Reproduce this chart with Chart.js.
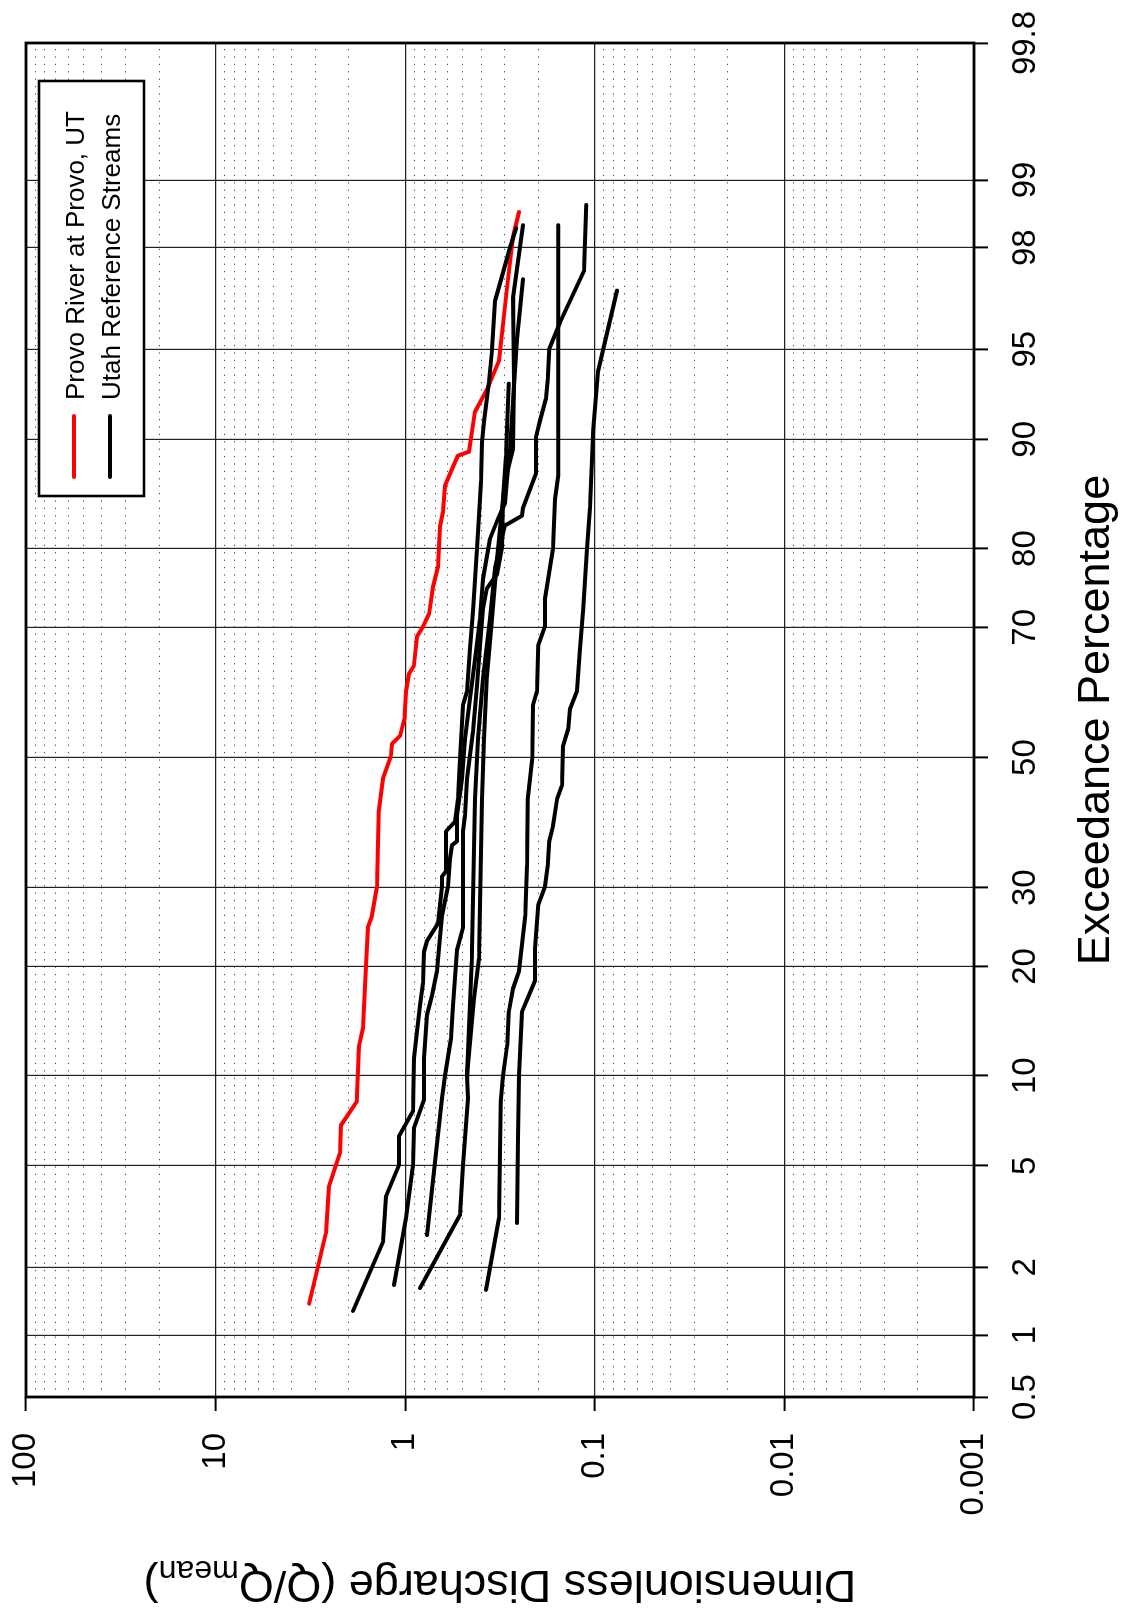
<!DOCTYPE html>
<html>
<head>
<meta charset="utf-8">
<script src="https://cdn.jsdelivr.net/npm/chart.js@4.4.0/dist/chart.umd.min.js"></script>
<style>
  html, body { margin: 0; padding: 0; background: #fff; overflow: hidden; width: 1127px; height: 1617px; }
  /* el grafico se dibuja horizontal y se gira 90 grados */
  #marco { position: absolute; left: 0; top: 0; width: 1617px; height: 1127px;
           transform-origin: 0 0; transform: translate(0, 1617px) rotate(-90deg); }
</style>
</head>
<body>
<div id="marco"><canvas id="grafico" width="1617" height="1127"></canvas></div>
<script>
// Curvas de duracion de caudales: % de excedencia vs caudal adimensional (Q/Qmean)

const probTicks = [0.5, 1, 2, 5, 10, 20, 30, 50, 70, 80, 90, 95, 98, 99, 99.8];
const probLabels = ['0.5', '1', '2', '5', '10', '20', '30', '50', '70', '80', '90', '95', '98', '99', '99.8'];
const qTicks = [0.001, 0.01, 0.1, 1, 10, 100];
const qLabels = ['0.001', '0.01', '0.1', '1', '10', '100'];
const legendLabels = ['Provo River at Provo, UT', 'Utah Reference Streams'];

// Provo River
const provoPct = [1.39, 2.03, 2.77, 4.22, 5.55, 6.93, 8.3, 12.3, 13.8, 20.1, 24.8, 26.1, 30.2, 41.4, 46.6, 50.2, 52.2, 53.5, 56.2, 60.5, 63.2, 64.4, 68.7, 70.1, 71.9, 75.4, 77.9, 82.4, 83.9, 86.3, 87.9, 88.8, 89.1, 91.8, 93.2, 94.5, 97.1, 98.2, 98.6];
const provoQ = [3.21, 2.88, 2.62, 2.52, 2.21, 2.18, 1.80, 1.75, 1.67, 1.61, 1.57, 1.50, 1.41, 1.38, 1.31, 1.19, 1.175, 1.064, 1.01, 0.99, 0.955, 0.90, 0.867, 0.806, 0.748, 0.713, 0.671, 0.655, 0.632, 0.617, 0.560, 0.527, 0.461, 0.429, 0.366, 0.320, 0.290, 0.270, 0.251];

// Estaciones de referencia de Utah
const ref1Pct = [1.29, 2.55, 3.86, 5.03, 6.36, 7.72, 11.3, 13.5, 15.9, 18.2, 21.7, 23.0, 25.2, 30.2, 31.6, 32.3, 38.3, 39.8, 43.4, 49.8, 58.3, 60.5, 67.0, 72.2, 80.0, 85.1, 86.7, 89.8, 91.2, 93.5, 95.0, 96.7, 98.0, 98.35];
const ref1Q = [1.885, 1.31, 1.263, 1.078, 1.078, 0.910, 0.899, 0.867, 0.835, 0.806, 0.796, 0.767, 0.671, 0.640, 0.640, 0.610, 0.610, 0.546, 0.527, 0.514, 0.496, 0.472, 0.455, 0.439, 0.418, 0.403, 0.398, 0.393, 0.384, 0.361, 0.348, 0.336, 0.280, 0.260];

const ref2Pct = [2.72, 8.5, 10.0, 12.9, 15.9, 21.9, 24.6, 38.3, 40.8, 46.6, 54.2, 61.4, 67.4, 72.6, 75.2, 77.0, 80.0, 85.1, 86.7, 89.3, 93.6, 96.8, 98.4];
const ref2Q = [0.767, 0.640, 0.617, 0.573, 0.560, 0.533, 0.496, 0.496, 0.484, 0.472, 0.439, 0.418, 0.403, 0.389, 0.371, 0.328, 0.309, 0.305, 0.298, 0.270, 0.267, 0.270, 0.239];

const ref3Pct = [1.68, 3.18, 5.03, 6.77, 8.38, 11.3, 15.0, 16.9, 19.5, 22.1, 26.2, 30.2, 34.2, 36.2, 36.8, 40.8, 46.6, 53.0, 59.4, 66.5, 71.2, 76.4, 81.1, 83.2, 84.7, 86.9, 89.3, 95.4, 97.3];
const ref3Q = [1.146, 0.990, 0.910, 0.899, 0.796, 0.796, 0.767, 0.722, 0.680, 0.664, 0.640, 0.595, 0.581, 0.567, 0.533, 0.533, 0.502, 0.484, 0.455, 0.423, 0.403, 0.389, 0.357, 0.324, 0.298, 0.290, 0.280, 0.257, 0.239];

const ref4Pct = [10.0, 16.6, 20.9, 43.4, 53.0, 62.5, 71.2, 78.8, 85.1, 88.8, 93.4];
const ref4Q = [0.472, 0.434, 0.408, 0.393, 0.384, 0.371, 0.348, 0.328, 0.305, 0.294, 0.284];

const ref5Pct = [1.63, 3.27, 5.03, 8.5, 10.0, 20.6, 43.4, 53.0, 62.5, 71.2, 77.7, 82.5, 83.5, 84.3, 87.4, 90.2, 91.2, 92.6, 93.6, 95.0, 96.0, 97.5, 98.7];
const ref5Q = [0.835, 0.514, 0.496, 0.467, 0.472, 0.445, 0.429, 0.413, 0.389, 0.357, 0.336, 0.298, 0.242, 0.239, 0.204, 0.204, 0.195, 0.181, 0.177, 0.174, 0.153, 0.114, 0.111];

const ref6Pct = [1.60, 3.18, 8.3, 10.0, 12.3, 15.3, 17.6, 19.5, 26.2, 33.2, 43.4, 49.8, 58.3, 60.5, 67.4, 70.2, 73.9, 80.0, 85.1, 87.2, 95.0, 98.4];
const ref6Q = [0.375, 0.320, 0.313, 0.305, 0.290, 0.284, 0.270, 0.251, 0.233, 0.228, 0.226, 0.214, 0.212, 0.202, 0.199, 0.183, 0.183, 0.166, 0.162, 0.156, 0.156, 0.156];

const ref7Pct = [3.04, 6.26, 10.0, 15.3, 16.6, 18.4, 22.1, 27.6, 30.2, 33.2, 36.8, 39.2, 43.4, 45.5, 51.9, 54.6, 57.8, 60.6, 66.5, 72.6, 80.0, 84.3, 90.7, 94.0, 97.0];
const ref7Q = [0.257, 0.254, 0.251, 0.242, 0.226, 0.207, 0.207, 0.199, 0.183, 0.177, 0.174, 0.166, 0.158, 0.149, 0.147, 0.138, 0.135, 0.124, 0.120, 0.115, 0.110, 0.106, 0.102, 0.0962, 0.0764];

const FUENTE = '"Liberation Sans", Arial, Helvetica, sans-serif';

// Inversa de la normal estandar (Acklam) para el eje de probabilidad
function qnorm(p) {
  const a = [-3.969683028665376e+01, 2.209460984245205e+02, -2.759285104469687e+02, 1.383577518672690e+02, -3.066479806614716e+01, 2.506628277459239e+00];
  const b = [-5.447609879822406e+01, 1.615858368580409e+02, -1.556989798598866e+02, 6.680131188771972e+01, -1.328068155288572e+01];
  const c = [-7.784894002430293e-03, -3.223964580411365e-01, -2.400758277161838e+00, -2.549732539343734e+00, 4.374664141464968e+00, 2.938163982698783e+00];
  const d = [7.784695709041462e-03, 3.224671290700398e-01, 2.445134137142996e+00, 3.754408661907416e+00];
  const plow = 0.02425;
  let q, r;
  if (p < plow) {
    q = Math.sqrt(-2 * Math.log(p));
    return (((((c[0] * q + c[1]) * q + c[2]) * q + c[3]) * q + c[4]) * q + c[5]) / ((((d[0] * q + d[1]) * q + d[2]) * q + d[3]) * q + 1);
  }
  if (p > 1 - plow) {
    q = Math.sqrt(-2 * Math.log(1 - p));
    return -(((((c[0] * q + c[1]) * q + c[2]) * q + c[3]) * q + c[4]) * q + c[5]) / ((((d[0] * q + d[1]) * q + d[2]) * q + d[3]) * q + 1);
  }
  q = p - 0.5;
  r = q * q;
  return (((((a[0] * r + a[1]) * r + a[2]) * r + a[3]) * r + a[4]) * r + a[5]) * q / (((((b[0] * r + b[1]) * r + b[2]) * r + b[3]) * r + b[4]) * r + 1);
}

function serie(pct, q) {
  return pct.map((p, i) => ({ x: qnorm(p / 100), y: q[i] }));
}

const referencias = [
  [ref1Pct, ref1Q], [ref2Pct, ref2Q], [ref3Pct, ref3Q], [ref4Pct, ref4Q],
  [ref5Pct, ref5Q], [ref6Pct, ref6Q], [ref7Pct, ref7Q]
];

const datasets = referencias.map(([p, q]) => ({
  data: serie(p, q),
  borderColor: '#000000'
}));
datasets.push({ data: serie(provoPct, provoQ), borderColor: '#ff0000' });

// Rejilla menor punteada (2..9 de cada decada)
const rejillaMenor = {
  id: 'rejillaMenor',
  beforeDatasetsDraw(chart) {
    const { ctx, chartArea, scales } = chart;
    ctx.save();
    ctx.strokeStyle = '#444';
    ctx.lineWidth = 1.2;
    ctx.setLineDash([1.2, 6.2]);
    for (let k = 0; k < qTicks.length - 1; k++) {
      for (let m = 2; m <= 9; m++) {
        const y = Math.round(scales.y.getPixelForValue(qTicks[k] * m)) + 0.5;
        ctx.beginPath();
        ctx.moveTo(chartArea.left, y);
        ctx.lineTo(chartArea.right, y);
        ctx.stroke();
      }
    }
    ctx.restore();
  }
};

// Marco, titulos de ejes y leyenda
const marcoYLeyenda = {
  id: 'marcoYLeyenda',
  afterDraw(chart) {
    const { ctx, chartArea } = chart;
    ctx.save();
    ctx.strokeStyle = '#000';
    ctx.lineWidth = 2.8;
    ctx.setLineDash([]);
    ctx.strokeRect(chartArea.left, chartArea.top, chartArea.right - chartArea.left, chartArea.bottom - chartArea.top);

    // titulo eje x
    ctx.fillStyle = '#000';
    ctx.font = '45px ' + FUENTE;
    ctx.textAlign = 'center';
    ctx.textBaseline = 'alphabetic';
    ctx.fillText('Exceedance Percentage', (chartArea.left + chartArea.right) / 2, 1109);

    // titulo eje y con subindice
    const t1 = 'Dimensionless Discharge (Q/Q', t2 = 'mean', t3 = ')';
    ctx.font = '45px ' + FUENTE;
    const w1 = ctx.measureText(t1).width, w3 = ctx.measureText(t3).width;
    ctx.font = '32px ' + FUENTE;
    const w2 = ctx.measureText(t2).width;
    const x0 = -(w1 + w2 + w3) / 2;
    ctx.save();
    ctx.translate(46, (chartArea.top + chartArea.bottom) / 2);
    ctx.rotate(-Math.PI / 2);
    ctx.textAlign = 'left';
    ctx.font = '45px ' + FUENTE;
    ctx.fillText(t1, x0, 0);
    ctx.fillText(t3, x0 + w1 + w2, 0);
    ctx.font = '32px ' + FUENTE;
    ctx.fillText(t2, x0 + w1, 10);
    ctx.restore();

    // leyenda
    ctx.fillStyle = '#fff';
    ctx.fillRect(1121, 39, 415, 105);
    ctx.lineWidth = 2.6;
    ctx.strokeRect(1121, 39, 415, 105);
    const colores = ['#ff0000', '#000000'];
    const filas = [74, 110];
    ctx.lineWidth = 4;
    ctx.lineCap = 'round';
    ctx.font = '26px ' + FUENTE;
    ctx.textAlign = 'left';
    ctx.fillStyle = '#000';
    legendLabels.forEach((txt, i) => {
      ctx.strokeStyle = colores[i];
      ctx.beginPath();
      ctx.moveTo(1140, filas[i]);
      ctx.lineTo(1201, filas[i]);
      ctx.stroke();
      ctx.fillText(txt, 1217, filas[i] + 9.5);
    });
    ctx.restore();
  }
};

new Chart(document.getElementById('grafico').getContext('2d'), {
  type: 'line',
  data: { datasets },
  options: {
    responsive: false,
    animation: false,
    devicePixelRatio: 1,
    events: [],
    layout: { padding: { top: 26, right: 43, bottom: 0, left: 0 } },
    plugins: { legend: { display: false }, tooltip: { enabled: false } },
    elements: {
      point: { radius: 0 },
      line: { tension: 0, borderWidth: 4, borderCapStyle: 'round', borderJoinStyle: 'round', fill: false }
    },
    scales: {
      x: {
        type: 'linear',
        min: qnorm(0.005),
        max: qnorm(0.998),
        afterBuildTicks: s => { s.ticks = probTicks.map(p => ({ value: qnorm(p / 100) })); },
        afterFit: s => { s.height = 153; s.paddingLeft = 0; s.paddingRight = 0; },
        ticks: {
          autoSkip: false, minRotation: 0, maxRotation: 0, padding: 18, color: '#000',
          font: { family: FUENTE, size: 33 },
          callback: (v, i) => probLabels[i]
        },
        grid: { color: '#222', lineWidth: 1.2, tickLength: 14, tickColor: '#000', tickWidth: 2 },
        border: { display: false }
      },
      y: {
        type: 'logarithmic',
        min: 0.001,
        max: 100,
        afterBuildTicks: s => { s.ticks = qTicks.map(v => ({ value: v })); },
        afterFit: s => { s.width = 220; s.paddingTop = 0; s.paddingBottom = 0; },
        ticks: {
          autoSkip: false, padding: 22, color: '#000',
          font: { family: FUENTE, size: 33 },
          callback: (v, i) => qLabels[i]
        },
        grid: { color: '#222', lineWidth: 1.2, tickLength: 14, tickColor: '#000', tickWidth: 2 },
        border: { display: false }
      }
    }
  },
  plugins: [rejillaMenor, marcoYLeyenda]
});
</script>
</body>
</html>
